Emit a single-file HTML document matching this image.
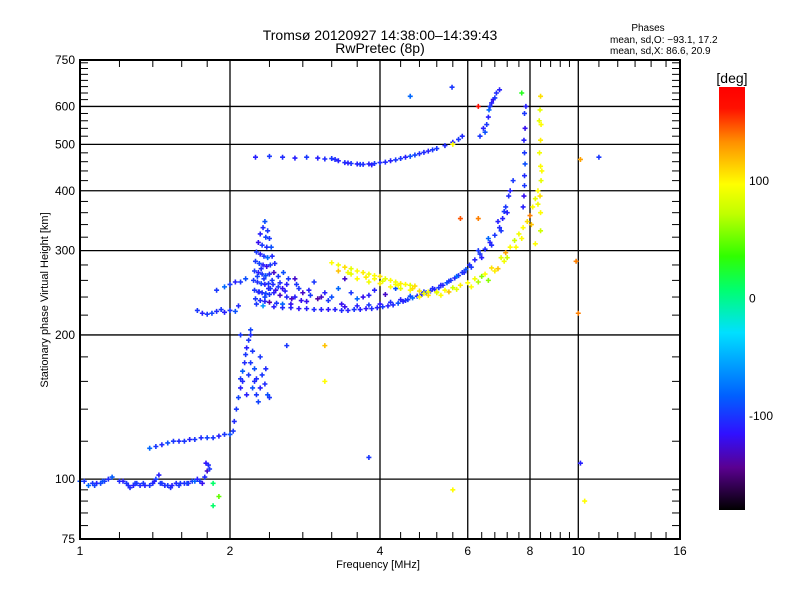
<!DOCTYPE html>
<html><head><meta charset="utf-8"><style>
body{margin:0;background:#fff;}
svg{display:block;font-family:"Liberation Sans",sans-serif;}
</style></head><body>
<svg id="chart" width="800" height="600" viewBox="0 0 800 600">
<defs>
<linearGradient id="cmap" x1="0" y1="1" x2="0" y2="0">
<stop offset="0" stop-color="#000000"/><stop offset="0.1" stop-color="#5a0090"/>
<stop offset="0.18" stop-color="#3010ff"/><stop offset="0.27" stop-color="#0060ff"/>
<stop offset="0.42" stop-color="#00e0ff"/><stop offset="0.52" stop-color="#00ff70"/>
<stop offset="0.6" stop-color="#30ff00"/><stop offset="0.7" stop-color="#c0ff00"/>
<stop offset="0.77" stop-color="#ffff00"/><stop offset="0.87" stop-color="#ff9000"/>
<stop offset="0.95" stop-color="#ff1000"/><stop offset="1" stop-color="#ff0000"/>
</linearGradient></defs>
<text x="380" y="40" text-anchor="middle" font-size="14">Tromsø 20120927 14:38:00–14:39:43</text>
<text x="380" y="53" text-anchor="middle" font-size="14">RwPretec (8p)</text>
<text x="648" y="31" text-anchor="middle" font-size="10">Phases</text>
<text x="610" y="43" font-size="10">mean, sd,O: −93.1, 17.2</text>
<text x="610" y="54" font-size="10">mean, sd,X:  86.6, 20.9</text>
<g id="grid"></g>
<g id="ticks"></g>
<g id="marks"></g>
<rect x="80" y="60" width="600" height="479" fill="none" stroke="#000" stroke-width="2"/>
<g id="xlabels" font-size="12" text-anchor="middle"></g>
<g id="ylabels" font-size="12" text-anchor="end"></g>
<text x="378" y="568" text-anchor="middle" font-size="11">Frequency [MHz]</text>
<text transform="translate(48,300) rotate(-90)" text-anchor="middle" font-size="11">Stationary phase Virtual Height [km]</text>
<rect x="719" y="87" width="26" height="423" fill="url(#cmap)"/>
<text x="732" y="83" text-anchor="middle" font-size="14">[deg]</text>
<g id="cblabels" font-size="12"></g>
</svg>
<script>
const xMajor=[1,2,4,6,8,10,16];
const xGrid=[2,4,6,8,10];
const xMinor=[1.2,1.4,1.6,1.8,2.4,2.8,3.2,3.6,4.4,4.8,5.2,5.6,6.4,6.8,7.2,7.6,8.4,8.8,9.2,9.6,11,12,13,14,15];
const yMajor=[75,100,200,300,400,500,600,750];
const yGrid=[100,200,300,400,500,600];
const yMinor=[80,85,90,95,120,140,160,180,220,240,260,280,320,340,360,380,420,440,460,480,520,540,560,580,620,640,660,680,700,720,740];
const cbTicks=[100,0,-100];

const eFreq=[1.00,1.02,1.04,1.06,1.08,1.10,1.12,1.14,1.16,1.20,1.22,1.24,1.26,1.28,1.30,1.32,1.35,1.38,1.40,1.42,1.44,1.46,1.48,1.50,1.53,1.56,1.59,1.62,1.65,1.68,1.70,1.72,1.74,1.76,1.78,1.80,1.82,1.79,1.81,1.85,1.07,1.11,1.25,1.29,1.34,1.41,1.45,1.52,1.58,1.64];
const eHeight=[99,99,97,98,98,98,99,100,101,99,99,98,96,97,98,97,97,97,98,100,102,98,97,97,97,98,98,98,98,99,99,100,99,98,101,104,105,108,107,98,97,99,97,98,98,99,98,96,97,98];
const ePhase=[-90,-100,-80,-100,-110,-95,-100,-105,-85,-105,-110,-100,-105,-110,-100,-105,-110,-100,-105,-95,-110,-100,-105,-100,-110,-105,-100,-105,-110,-100,-80,-110,-100,-120,-105,-130,-100,-115,-105,10,-95,-90,-105,-100,-100,-110,-100,-105,-100,-95];

const sFreq=[1.38,1.42,1.46,1.5,1.54,1.58,1.62,1.66,1.70,1.75,1.80,1.85,1.90,1.95,2.0,2.03,2.04,2.06,2.08,2.1,2.1,2.12,2.14,2.15,2.16,2.18,2.2,2.2,2.22,2.24,2.24,2.26,2.3,2.32,2.35,2.38,2.4,2.12,2.16,2.2,2.28,2.36,2.18,2.22,2.26,2.3];
const sHeight=[116,117,118,119,120,120,120,121,121,122,122,122,123,124,124,126,132,140,148,155,162,168,175,182,188,195,200,205,185,170,160,150,155,165,158,150,148,160,150,175,145,170,165,155,162,180];
const sPhase=[-80,-100,-105,-90,-100,-105,-100,-110,-100,-105,-95,-100,-110,-100,-90,-100,-105,-100,-95,-110,-100,-85,-105,-100,-110,-100,-105,-95,-100,-90,-105,-100,-110,-100,-105,-90,-100,-105,-110,-100,-95,-105,-100,-90,-105,-100];

const fFreq=[1.72,1.76,1.8,1.84,1.88,1.92,1.95,2.0,2.05,2.08,1.88,1.95,2.0,2.05,2.1,2.15,2.35,2.33,2.38,2.3,2.36,2.4,2.28,2.32,2.37,2.42,2.26,2.3,2.34,2.38,2.43,2.25,2.29,2.33,2.37,2.41,2.46,2.24,2.28,2.32,2.36,2.4,2.45,2.5,2.23,2.27,2.31,2.35,2.39,2.44,2.5,2.55,2.24,2.28,2.32,2.36,2.4,2.45,2.52,2.6,2.25,2.3,2.35,2.4,2.48,2.55,2.65,2.7,2.8,2.9,3.0,3.1,2.75,2.85,3.2,2.26,2.33,2.6,2.7,2.95,3.3,3.4,3.5,3.7,3.9,4.1,2.56,2.62,2.31,2.34,2.39,2.27,2.43,2.47,2.52,2.58,2.66,2.72,2.78,2.88,3.05,3.15,3.35,3.6,3.8,4.3,4.5,2.29,2.35,2.41];
const fHeight=[225,222,221,222,224,226,223,225,224,230,248,252,255,258,258,262,345,335,330,325,320,318,312,308,305,305,298,295,292,290,292,285,282,280,278,280,282,272,270,268,266,268,270,265,260,258,256,255,256,255,252,250,248,246,245,244,243,245,242,240,238,236,235,234,233,232,232,240,245,242,238,245,250,235,240,232,230,255,262,258,250,262,245,240,248,243,270,262,275,262,250,265,260,248,257,247,238,255,236,248,240,236,232,238,242,250,236,246,240,250,300,288];
const fPhase=[-100,-110,-100,-95,-105,-100,-110,-100,-90,-105,-100,-80,-100,-110,-100,-90,-90,-105,-100,-110,-95,-100,-120,-100,-105,-90,-100,-110,-100,-80,-105,-100,-95,-110,-120,-100,-105,-100,-110,-100,-90,-105,-130,-100,-100,-105,-95,-110,-100,-105,-100,-120,-100,-110,-105,-95,-100,-110,-130,-105,-100,-105,-110,-140,-100,-80,-120,-110,-130,-100,-140,-110,-100,-120,-90,-100,-60,-110,-130,-100,-80,-130,-100,-120,-110,-130,-90,-100,-105,-100,-110,-95,-100,-120,-105,-110,-130,-100,-120,-110,-130,-100,-120,-80,-110,-90,-100,-105,-95,-100];

const oFreq=[2.45,2.55,2.65,2.75,2.85,2.95,3.05,3.15,3.25,3.35,3.45,3.55,3.65,3.75,3.85,3.95,4.05,4.15,4.25,4.35,4.45,4.55,4.65,4.75,4.85,4.95,5.05,5.15,5.25,5.35,5.45,5.55,5.65,5.75,5.85,5.95,6.05,6.2,6.35,6.5,6.65,6.8,6.95,7.05,7.15,7.25,7.3,7.4,7.75,7.78,7.8,7.8,7.82,7.8,7.78,7.82,7.8,7.85,6.3,6.6,6.9,7.1,3.4,3.6,3.8,4.0,4.2,4.4,4.6,4.9,5.1,5.3,5.5,5.7,5.9,6.1,6.4,6.7,7.0,7.2];
const oHeight=[229,228,228,227,227,226,226,226,226,225,225,226,226,227,227,228,229,230,231,233,235,237,239,241,243,245,247,249,251,254,257,260,263,266,270,274,280,287,295,302,312,323,335,350,370,390,400,420,370,390,410,430,455,480,510,540,580,600,300,318,345,362,229,230,231,232,234,237,241,246,250,254,259,265,270,277,290,308,330,360];
const oPhase=[-110,-105,-110,-115,-110,-105,-110,-115,-110,-105,-110,-100,-110,-115,-105,-110,-100,-110,-105,-90,-110,-100,-80,-105,-110,-100,-105,-110,-100,-105,-90,-100,-110,-105,-100,-90,-105,-110,-100,-105,-110,-100,-105,-110,-100,-105,-110,-100,-110,-120,-100,-105,-90,-100,-110,-120,-100,-110,-100,-80,-110,-100,-120,-110,-100,-115,-105,-110,-90,-100,-105,-110,-100,-80,-105,-100,-110,-105,-100,-110];

const xFreq=[3.2,3.3,3.4,3.5,3.6,3.7,3.8,3.9,4.0,4.1,4.2,4.3,4.4,4.5,4.6,4.7,3.6,3.8,4.0,4.2,4.4,4.6,4.8,5.0,5.2,3.3,3.5,3.9,4.3,4.8,5.0,5.2,5.4,5.6,5.8,6.0,6.2,6.4,6.5,6.7,7.0,7.15,7.3,7.45,7.6,7.75,7.9,8.0,8.1,8.2,8.3,8.4,8.4,8.38,8.42,8.4,8.36,8.4,8.42,8.38,8.4,8.2,6.6,6.9,7.2,7.5,3.45,3.75,4.05,4.35,4.65,4.9,5.3,5.5,5.7,6.1,6.3,6.8,7.1,7.7,8.05,8.3,8.45,8.35];
const xHeight=[283,280,277,275,272,270,268,266,265,262,260,258,256,255,254,253,262,258,256,252,250,248,247,246,246,272,268,262,255,240,242,245,248,251,254,257,262,265,268,276,290,297,305,315,325,335,345,355,370,385,400,330,360,390,420,450,480,510,550,590,630,310,260,275,290,305,270,264,259,254,250,244,242,246,249,252,258,272,285,318,340,375,440,560];
const xPhase=[100,95,110,90,100,105,95,100,110,90,100,95,105,100,90,110,100,95,105,100,90,100,110,95,100,120,90,100,95,100,110,90,100,80,105,100,95,60,100,110,90,130,100,80,95,100,110,140,100,90,100,80,100,110,90,100,95,105,100,90,110,100,60,120,80,100,95,105,90,100,110,95,100,120,90,100,70,105,95,100,120,95,100,90];

const uFreq=[2.25,2.4,2.55,2.7,2.85,3.0,3.1,3.2,3.3,3.4,3.5,3.6,3.7,3.8,3.9,4.0,4.2,4.4,4.6,4.8,5.0,5.2,5.4,5.6,5.75,5.85,5.6,6.35,6.45,6.5,6.55,6.6,6.62,6.65,6.7,6.75,6.8,6.85,6.95,3.25,3.45,3.65,3.85,4.1,4.3,4.5,4.7,4.9,5.1];
const uHeight=[470,472,470,468,470,468,466,467,462,458,456,455,454,455,456,458,462,467,472,478,484,490,497,505,512,520,500,520,540,530,550,570,590,600,610,620,625,640,650,465,457,454,453,459,464,470,475,481,487];
const uPhase=[-110,-100,-105,-110,-100,-110,-105,-100,-110,-105,-100,-110,-105,-110,-100,-105,-110,-100,-90,-105,-110,-100,-105,-110,-100,-105,100,-100,-110,-90,-100,-110,-80,-100,-110,-120,-100,-105,-110,-105,-110,-100,-110,-105,-100,-110,-95,-105,-100];

const rFreq=[5.58,4.6,10.1,11.0,9.9,10.1,10.3,5.6,3.8,10.0,2.6,2.1,1.85,1.9,5.8,6.3,6.3,7.7,3.1,3.1];
const rHeight=[658,630,465,470,285,108,90,95,111,222,190,200,88,92,350,600,350,640,190,160];
const rPhase=[-100,-80,130,-100,140,-110,100,100,-100,140,-100,-100,10,50,150,170,140,30,120,100];

const X0=80,X1=680,Y0=539,Y1=60;
const fx=f=>X0+Math.log(f)/Math.log(16)*(X1-X0);
const fy=h=>Y0-(Math.log(h/75)/Math.log(10))*(Y0-Y1);
const NS='http://www.w3.org/2000/svg';
function el(tag,attrs,parent){const e=document.createElementNS(NS,tag);for(const k in attrs)e.setAttribute(k,attrs[k]);parent.appendChild(e);return e;}
const stops=[[0,[0,0,0]],[0.1,[90,0,144]],[0.18,[48,16,255]],[0.27,[0,96,255]],[0.42,[0,224,255]],[0.52,[0,255,112]],[0.6,[48,255,0]],[0.7,[192,255,0]],[0.77,[255,255,0]],[0.87,[255,144,0]],[0.95,[255,16,0]],[1,[255,0,0]]];
function color(p){let t=(p+182)/366;t=Math.max(0,Math.min(1,t));for(let i=1;i<stops.length;i++){if(t<=stops[i][0]){const a=stops[i-1],b=stops[i];const u=(t-a[0])/(b[0]-a[0]);const c=a[1].map((v,j)=>Math.round(v+(b[1][j]-v)*u));return `rgb(${c.join(',')})`;}}return 'rgb(255,0,0)';}

const grid=document.getElementById('grid');
xGrid.forEach(v=>{const l=el('line',{x1:fx(v),x2:fx(v),y1:Y1,y2:Y0,stroke:'#000','stroke-width':1.3},grid);

});
yGrid.forEach(v=>{const l=el('line',{x1:X0,x2:X1,y1:fy(v),y2:fy(v),stroke:'#000','stroke-width':1.3},grid);

});
const ticks=document.getElementById('ticks');
xMinor.forEach(v=>{const x=fx(v);
const a=el('line',{x1:x,x2:x,y1:Y0,y2:Y0-7,stroke:'#000'},ticks);


const b=el('line',{x1:x,x2:x,y1:Y1,y2:Y1+7,stroke:'#000'},ticks);

});
yMinor.forEach(v=>{const y=fy(v);
const a=el('line',{x1:X0,x2:X0+8,y1:y,y2:y,stroke:'#000'},ticks);


const b=el('line',{x1:X1,x2:X1-8,y1:y,y2:y,stroke:'#000'},ticks);

});
const xl=document.getElementById('xlabels');
xMajor.forEach(v=>{const t=el('text',{x:fx(v),y:555},xl);t.textContent=v;

});
const yl=document.getElementById('ylabels');
yMajor.forEach(v=>{const t=el('text',{x:75,y:fy(v)+4},yl);t.textContent=v;

});
const cb=document.getElementById('cblabels');
cbTicks.forEach(v=>{const y=87+(180-v)/360*423;const t=el('text',{x:749,y:y+4},cb);t.textContent=v;

});

const marks=document.getElementById('marks');
const series=[[eFreq,eHeight,ePhase,'e-region-point'],[sFreq,sHeight,sPhase,'f1-step-point'],[fFreq,fHeight,fPhase,'f-cluster-point'],[oFreq,oHeight,oPhase,'o-trace-point'],[xFreq,xHeight,xPhase,'x-trace-point'],[uFreq,uHeight,uPhase,'multihop-point'],[rFreq,rHeight,rPhase,'stray-point']];
series.forEach(([F,H,P,name])=>{F.forEach((f,i)=>{const x=fx(f),y=fy(H[i]);
const p=el('path',{d:`M${x-2.5},${y}H${x+2.5}M${x},${y-2.5}V${y+2.5}`,stroke:color(P[i]),'stroke-width':1.6,fill:'none'},marks);

});});
</script>
</body></html>
